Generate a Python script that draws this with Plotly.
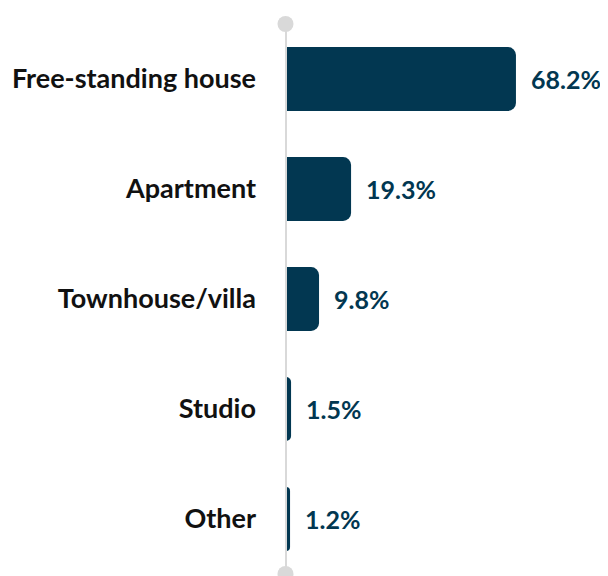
import plotly.graph_objects as go

categories = ["Free-standing house", "Apartment", "Townhouse/villa", "Studio", "Other"]
values = [68.2, 19.3, 9.8, 1.5, 1.2]
value_labels = ["68.2%", "19.3%", "9.8%", "1.5%", "1.2%"]

BAR = "#023751"
GREY = "#d9d9d9"
FONT = "Lato"
positions = list(range(len(categories)))

fig = go.Figure()
fig.add_trace(go.Bar(
    x=values, y=positions, orientation="h",
    marker=dict(color=BAR, cornerradius=8, line=dict(width=0)),
    width=0.58, hoverinfo="skip",
))
for v, lab, p in zip(values, value_labels, positions):
    fig.add_annotation(x=v, y=p, text=f"<b>{lab}</b>", showarrow=False,
                       xanchor="left", xshift=13,
                       font=dict(family=FONT, size=25, color=BAR))

# vertical axis line with end dots
fig.add_shape(type="line", xref="paper", yref="paper", x0=0, x1=0, y0=0, y1=1,
              xsizemode="pixel", xanchor=0, layer="above",
              line=dict(color=GREY, width=2))
for yy in (0, 1):
    fig.add_shape(type="circle", xref="paper", yref="paper",
                  xsizemode="pixel", ysizemode="pixel", xanchor=0, yanchor=yy,
                  x0=-8.5, x1=7.5, y0=-8, y1=8,
                  fillcolor=GREY, line=dict(width=0), layer="above")

fig.update_layout(
    width=600, height=568,
    margin=dict(l=278, r=0, t=16, b=2, autoexpand=False),
    paper_bgcolor="white", plot_bgcolor="white",
    showlegend=False,
    xaxis=dict(range=[0, 95.5], visible=False, automargin=False),
    yaxis=dict(range=[4.5, -0.5], tickvals=positions,
               ticktext=[f"<b>{c}</b>" for c in categories],
               showgrid=False, zeroline=False, showline=False,
               ticks="", ticklabelstandoff=29, automargin=False,
               tickfont=dict(family=FONT, size=27, color="#111111")),
)
fig.write_html("out.html")
